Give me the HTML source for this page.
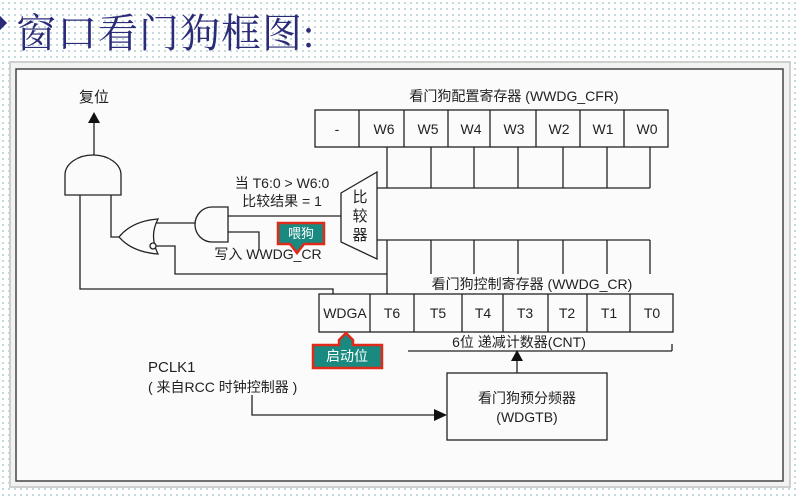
<!DOCTYPE html>
<html><head><meta charset="utf-8"><style>
html,body{margin:0;padding:0;}
body{width:797px;height:499px;overflow:hidden;background-color:#fff;background-image:radial-gradient(circle,#b9d6d8 0.9px,transparent 1.2px);background-size:6px 6px;position:relative;font-family:"Liberation Sans","Noto Sans CJK SC",sans-serif;}
.title{position:absolute;left:16px;top:2px;font-size:40px;color:#2b2b78;font-family:"Liberation Serif","Noto Serif CJK SC",serif;letter-spacing:1px;}
.bul{position:absolute;left:-5px;top:18px;width:10px;height:10px;background:#2b2b78;transform:rotate(45deg);}
svg{position:absolute;left:0;top:0;}
</style></head><body>
<div class="bul"></div>
<div class="title">窗口看门狗框图:</div>
<svg width="797" height="499" viewBox="0 0 797 499" font-family="Liberation Sans, Noto Sans CJK SC, sans-serif">
<rect x="10" y="62" width="780" height="425" fill="#f2f2f2" stroke="#cfcfcf" stroke-width="2"/>
<rect x="16" y="69" width="767" height="412" fill="#fbfbfb" stroke="#444" stroke-width="1.5"/>
<g stroke="#222" stroke-width="1.3" fill="none">
<!-- CFR register -->
<rect x="315" y="110" width="353" height="37"/>
<path d="M359 110V147M404 110V147M448 110V147M490 110V147M536 110V147M580 110V147M624 110V147"/>
<path d="M387 147V188M431 147V188M474 147V188M518 147V188M563 147V188M607 147V188M650 147V188M377 188H650"/>
<path d="M377 240H650M431 240V274M474 240V274M518 240V274M563 240V274M607 240V274M650 240V274M387 240V294"/>
<!-- comparator -->
<path d="M341 193L377 172V259L341 242Z" fill="#fbfbfb"/>
<!-- CR register -->
<rect x="319" y="294" width="354" height="38"/>
<path d="M370 294V332M414 294V332M462 294V332M503 294V332M548 294V332M587 294V332M630 294V332"/>
<path d="M408 351H672M672 344V351"/>
<!-- prescaler -->
<rect x="447" y="373" width="160" height="67"/>
<path d="M517 373V360"/>
<path d="M252 395V415H436"/>
<!-- reset AND gate -->
<path d="M65 195V175A28 20 0 0 1 121 175V195Z" fill="#fbfbfb"/>
<path d="M94 155V122"/>
<path d="M80 195V289H333V294M111 195V237H119"/>
<!-- OR gate facing left -->
<path d="M119 237Q132 221 158 219Q149 236 158 254Q132 252 119 237Z" fill="#fbfbfb"/>
<circle cx="153" cy="246" r="3" fill="#fbfbfb"/>
<path d="M156 223H195M156 246H175V274H387"/>
<!-- AND2 facing left -->
<path d="M228 207V242H212A17 17.5 0 0 1 212 207Z" fill="#fbfbfb"/>
<path d="M228 216H341M228 232H259V250"/>
</g>
<g fill="#111">
<path d="M94 112L88 123H100Z"/>
<path d="M517 350L511 361H523Z"/>
<path d="M447 415L434 409V421Z"/>
</g>
<g font-size="14" fill="#222" text-anchor="middle">
<text x="514" y="101">看门狗配置寄存器 (WWDG_CFR)</text>
<text x="337" y="134">-</text><text x="384" y="134">W6</text><text x="428" y="134">W5</text><text x="471" y="134">W4</text><text x="514" y="134">W3</text><text x="559" y="134">W2</text><text x="603" y="134">W1</text><text x="647" y="134">W0</text>
<text x="532" y="289">看门狗控制寄存器 (WWDG_CR)</text>
<text x="345" y="318">WDGA</text><text x="392" y="318">T6</text><text x="438" y="318">T5</text><text x="483" y="318">T4</text><text x="525" y="318">T3</text><text x="567" y="318">T2</text><text x="609" y="318">T1</text><text x="652" y="318">T0</text>
<text x="519" y="347">6位 递减计数器(CNT)</text>
<text x="527" y="403">看门狗预分频器</text>
<text x="527" y="422">(WDGTB)</text>
<text x="94" y="102" font-size="15">复位</text>
<text x="282" y="188">当 T6:0 &gt; W6:0</text>
<text x="282" y="206">比较结果 = 1</text>
<text x="268" y="259">写入 WWDG_CR</text>
<text x="360" y="202" font-size="15">比</text><text x="360" y="221" font-size="15">较</text><text x="360" y="240" font-size="15">器</text>
<text x="148" y="372" text-anchor="start" font-size="15">PCLK1</text>
<text x="148" y="392" text-anchor="start">( 来自RCC 时钟控制器 )</text>
</g>
<!-- callouts -->
<path d="M278 223H324V244H304L297 253L290 244H278Z" fill="#1a8a80" stroke="#e02a1a" stroke-width="2.5"/>
<text x="301" y="238" font-size="13" fill="#fff" text-anchor="middle">喂狗</text>
<path d="M313 345H339V340L346 333L353 340V345H382V368H313Z" fill="#1a8a80" stroke="#e02a1a" stroke-width="2.5"/>
<text x="347" y="361" font-size="14" fill="#fff" text-anchor="middle">启动位</text>
</svg>
</body></html>
